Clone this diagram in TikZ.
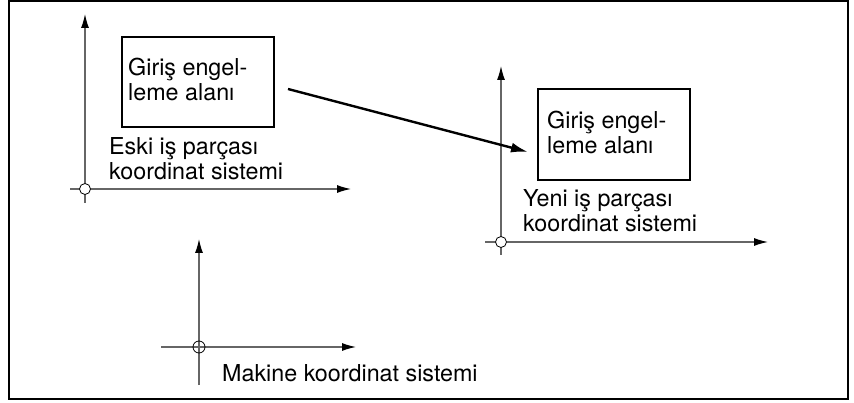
\documentclass[tikz,border=0pt]{standalone}
\usepackage{fontspec}
\setmainfont{TeX Gyre Heros}
\usetikzlibrary{arrows.meta}
\begin{document}
\begin{tikzpicture}[x=1pt,y=-1pt,
  axis/.style={draw=black!60,line width=1.2pt,-{Latex[length=14pt,width=8pt,color=black]}},
  axline/.style={draw=black!60,line width=1.2pt},
  zone/.style={draw=black,line width=2pt,rectangle,inner sep=0pt},
  lbl/.style={inner sep=0pt,anchor=west,align=left,font=\fontsize{23.3}{25}\selectfont},
  orig/.style={circle,draw=black,line width=0.8pt,fill=white,minimum size=11pt,inner sep=0pt},
  morig/.style={circle,draw=black,line width=0.8pt,minimum size=12pt,inner sep=0pt},
  move/.style={draw=black,line width=2.4pt,-{Latex[length=17pt,width=10pt]}}]
\useasboundingbox (0,0) rectangle (854,403);
\draw[line width=1.6pt] (9,1) rectangle (848,399);
% old workpiece system
\coordinate (o1) at (85,189);
\coordinate (o1l) at (70,189);
\coordinate (o1r) at (351,189);
\coordinate (o1b) at (85,203);
\coordinate (o1t) at (85,14);
\draw[axline] (o1l) -- (o1);
\draw[axline] (o1b) -- (o1);
\draw[axis] (o1) -- (o1r);
\draw[axis] (o1) -- (o1t);
\node[orig] (c1) at (o1) {};
\node[zone,minimum width=152pt,minimum height=90pt] (oldbox) at (198,82) {};
\node[lbl] (t1) at (128,79) {Giriş engel-\\leme alanı};
\node[lbl] (t2) at (109,159) {Eski iş parçası\\koordinat sistemi};
% new workpiece system
\coordinate (o2) at (501,242);
\coordinate (o2l) at (485,242);
\coordinate (o2r) at (768,242);
\coordinate (o2b) at (501,255);
\coordinate (o2t) at (501,66);
\draw[axline] (o2l) -- (o2);
\draw[axline] (o2b) -- (o2);
\draw[axis] (o2) -- (o2r);
\draw[axis] (o2) -- (o2t);
\node[orig] (c2) at (o2) {};
\node[zone,minimum width=152pt,minimum height=91pt] (newbox) at (614,134.5) {};
\node[lbl] (t3) at (547,132) {Giriş engel-\\leme alanı};
\node[lbl] (t4) at (523,211) {Yeni iş parçası\\koordinat sistemi};
% move arrow
\coordinate (as) at (288,89);
\coordinate (ae) at (528,152);
\draw[move] (as) -- (ae);
% machine system
\coordinate (m) at (199,347);
\coordinate (ml) at (161,347);
\coordinate (mr) at (356,347);
\coordinate (mb) at (199,385);
\coordinate (mt) at (199,239);
\draw[axline] (ml) -- (m);
\draw[axline] (mb) -- (m);
\draw[axis] (m) -- (mr);
\draw[axis] (m) -- (mt);
\node[morig] (cm) at (m) {};
\node[lbl] (t5) at (222,373) {Makine koordinat sistemi};
\end{tikzpicture}
\end{document}
